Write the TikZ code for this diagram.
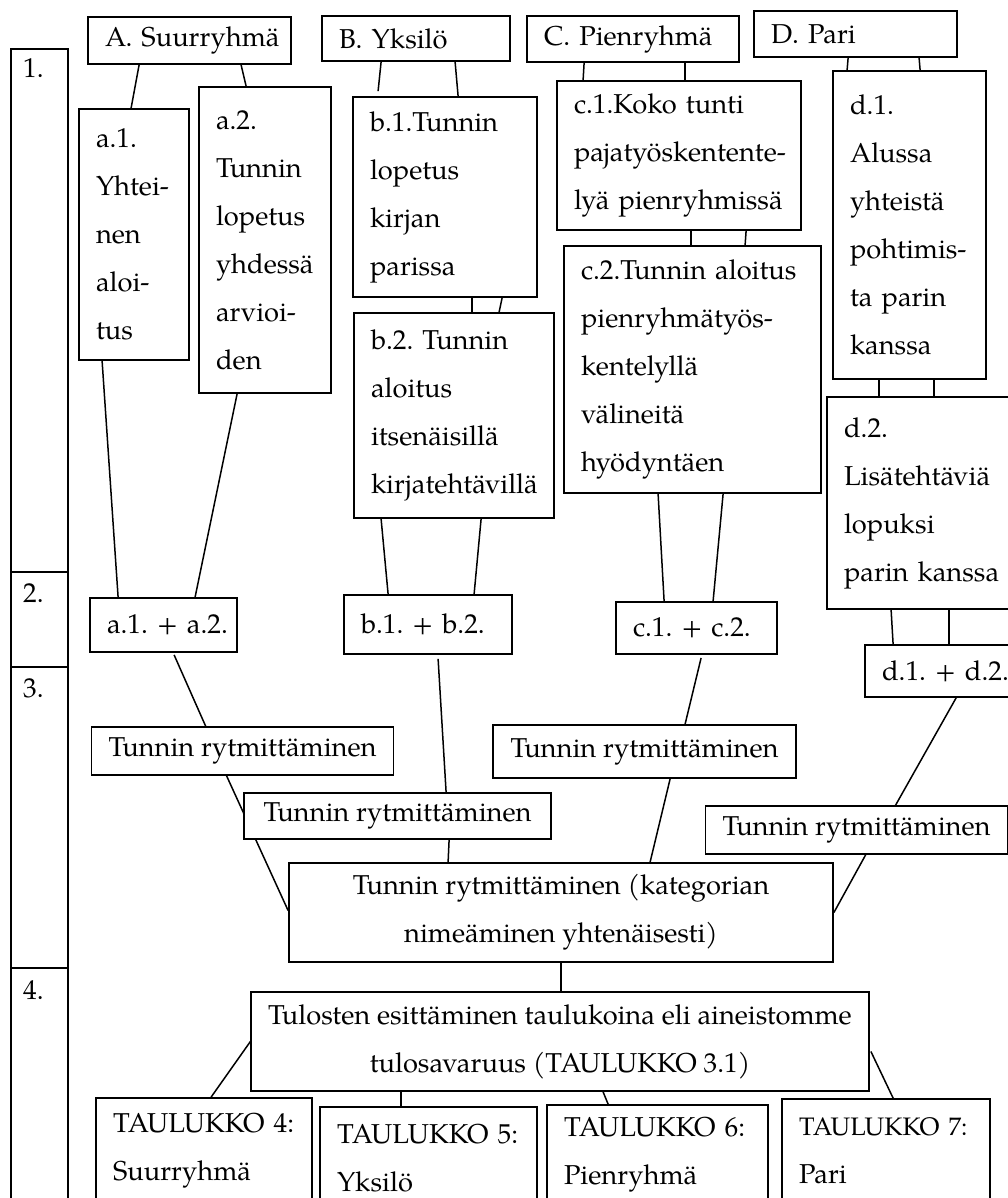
\documentclass[tikz,border=0pt]{standalone}
\usepackage{fontspec}
\setmainfont{TeX Gyre Pagella}
\usetikzlibrary{calc}
\hyphenpenalty=10000
\exhyphenpenalty=10000
\tikzstyle{box}=[draw, fill=white, line width=1.8pt, inner xsep=17pt, inner ysep=0pt, align=left, font=\fontsize{27.3}{48}\selectfont]
\tikzstyle{cbox}=[box, align=center]
\tikzstyle{rowcell}=[draw, line width=1.8pt, anchor=north west, inner sep=0pt, minimum width=57pt]
\tikzstyle{rownum}=[anchor=north west, inner sep=0pt, font=\fontsize{27.3}{48}\selectfont]
\tikzstyle{link}=[line width=1.5pt]

\begin{document}
\begin{tikzpicture}[x=1pt, y=-1pt]
    \fill[white] (0,0) rectangle (1008,1198);
    \useasboundingbox (0,0) rectangle (1008,1198);
    \clip (0,0) rectangle (1008,1198);
    % phases on the left
    \node[rowcell, minimum height=523pt] (row1) at (10,48) {};
    \node[rowcell, minimum height=95pt] (row2) at (10,571) {};
    \node[rowcell, minimum height=301pt] (row3) at (10,666) {};
    \node[rowcell, minimum height=250pt] (row4) at (10,967) {};
    \node[rownum] (num1) at ($(row1.north west)+(13,10)$) {1.};
    \node[rownum] (num2) at ($(row2.north west)+(13,12)$) {2.};
    \node[rownum] (num3) at ($(row3.north west)+(13,12)$) {3.};
    \node[rownum] (num4) at ($(row4.north west)+(13,13)$) {4.};

    % groups
    \node[box, text width=169pt, minimum height=47pt] (A) at (189.5,40.5) {A.~Suurryhmä};
    \node[box, text width=154pt, minimum height=45pt] (B) at (416,38.5) {B.~Yksilö};
    \node[box, text width=178pt, minimum height=46pt] (C) at (633,39) {C.~Pienryhmä};
    \node[box, text width=169pt, minimum height=46pt] (D) at (855.5,34) {D.~Pari};

    \node[box, text width=76pt, minimum height=251pt] (a1) at (134,234.5) {a.1.\\Yhtei-\\nen\\aloi-\\tus};
    \node[box, text width=98pt, minimum height=306pt] (a2) at (265,240) {a.2.\\Tunnin\\lopetus\\yhdessä\\arvioi-\\den};
    \node[box, text width=150pt, minimum height=200pt] (b1) at (445,197) {b.1.Tunnin\\lopetus\\kirjan\\parissa};
    \node[box, text width=166pt, minimum height=205pt] (b2) at (454,415.5) {b.2.~Tunnin\\aloitus\\itsenäisillä\\kirjatehtävillä};
    \node[box, text width=210pt, minimum height=149pt] (c1) at (679,155.5) {c.1.Koko~tunti\\pajatyöskentente-\\lyä~pienryhmissä};
    \node[box, text width=223pt, minimum height=247pt] (c2) at (692.5,369.5) {c.2.Tunnin~aloitus\\pienryhmätyös-\\kentelyllä\\välineitä\\hyödyntäen};
    \node[box, text width=119pt, minimum height=308pt] (d1) at (909.5,225) {d.1.\\Alussa\\yhteistä\\pohtimis-\\ta~parin\\kanssa};
    \node[box, text width=159pt, minimum height=212pt] (d2) at (923.5,503) {d.2.\\Lisätehtäviä\\lopuksi\\parin~kanssa};

    \node[box, text width=113pt, minimum height=54pt] (a12) at (163.5,625) {a.1.~+~a.2.};
    \node[box, text width=134pt, minimum height=59pt] (b12) at (428,624.5) {b.1.~+~b.2.};
    \node[box, text width=127pt, minimum height=52pt] (c12) at (696.5,628) {c.1.~+~c.2.};
    \node[box, text width=121pt, minimum height=52pt] (d12) at (942.5,671) {d.1.~+~d.2.};

    \node[cbox, minimum width=301pt, minimum height=48pt] (ra) at (242.5,751) {Tunnin rytmittäminen};
    \node[cbox, minimum width=303pt, minimum height=53pt] (rc) at (644.5,751.5) {Tunnin rytmittäminen};
    \node[cbox, minimum width=301pt, minimum height=48pt] (rd) at (856.5,830) {Tunnin rytmittäminen};
    \node[cbox, minimum width=544pt, minimum height=99pt] (rall) at (561,912.5) {Tunnin rytmittäminen (kategorian\\nimeäminen yhtenäisesti)};
    \draw[link] ($(ra.south west)+(136,0)$) -- ($(rall.west)+(0,-2)$);
    \node[cbox, minimum width=307pt, minimum height=46pt] (rb) at (397.5,816) {Tunnin rytmittäminen};

    \node[cbox, minimum width=618pt, minimum height=99pt] (tulos) at (560,1041.5) {Tulosten esittäminen taulukoina eli aineistomme\\tulosavaruus (TAULUKKO 3.1)};
    \node[box, text width=182pt, minimum height=106pt] (t4) at (204,1151) {TAULUKKO~4:\\Suurryhmä};
    \node[box, text width=183pt, minimum height=103pt] (t5) at (428.5,1158.5) {TAULUKKO~5:\\Yksilö};
    \node[box, text width=187pt, minimum height=99pt] (t6) at (657.5,1154.5) {TAULUKKO~6:\\Pienryhmä};
    \node[box, text width=174pt, minimum height=104pt] (t7) at (886,1151) {{\fontsize{25.3}{48}\selectfont TAULUKKO~7:}\\Pari};

    % groups to lessons
    \draw[link] ($(A.south west)+(52,0)$) -- ($(a1.north west)+(53,0)$);
    \draw[link] ($(A.south west)+(154,0)$) -- ($(a2.north west)+(48,0)$);
    \draw[link] ($(B.south west)+(60,0)$) -- ($(b1.north west)+(26,-5)$);
    \draw[link] ($(B.south west)+(134,0)$) -- ($(b1.north west)+(106,0)$);
    \draw[link] ($(b1.south west)+(120,0)$) -- ($(b2.north west)+(119,0)$);
    \draw[link] ($(b1.south west)+(150,0)$) -- ($(b2.north west)+(146,0)$);
    \draw[link] ($(C.south west)+(58,0)$) -- ($(c1.north west)+(27,0)$);
    \draw[link] ($(C.south west)+(159,0)$) -- ($(c1.north west)+(129,0)$);
    \draw[link] ($(c1.south west)+(135,0)$) -- ($(c2.north west)+(128,0)$);
    \draw[link] ($(c1.south west)+(190,0)$) -- ($(c2.north west)+(182,0)$);
    \draw[link] ($(D.south west)+(95,0)$) -- ($(d1.north west)+(15,0)$);
    \draw[link] ($(D.south west)+(166,0)$) -- ($(d1.north west)+(88,0)$);
    \draw[link] ($(d1.south west)+(47,0)$) -- ($(d2.north west)+(53,0)$);
    \draw[link] ($(d1.south west)+(102,0)$) -- ($(d2.north west)+(108,0)$);

    % lessons to pairs
    \draw[link] ($(a1.south west)+(24,0)$) -- ($(a12.north west)+(29,0)$);
    \draw[link] ($(a2.south west)+(39,0)$) -- ($(a12.north west)+(106,0)$);
    \draw[link] ($(b2.south west)+(28,0)$) -- ($(b12.north west)+(45,0)$);
    \draw[link] ($(b2.south west)+(128,0)$) -- ($(b12.north west)+(131,0)$);
    \draw[link] ($(c2.south west)+(95,0)$) -- ($(c12.north west)+(49,0)$);
    \draw[link] ($(c2.south west)+(160,0)$) -- ($(c12.north west)+(98,0)$);
    \draw[link] ($(d2.south west)+(65,0)$) -- ($(d12.north west)+(29,0)$);
    \draw[link] ($(d2.south west)+(123,0)$) -- ($(d12.north west)+(85,0)$);

    % pairs to rhythm
    \draw[link] ($(a12.south west)+(85,2)$) -- ($(ra.north west)+(115,0)$);
    \draw[link] ($(b12.south west)+(95,4)$) -- ($(rb.north west)+(203,0)$);
    \draw[link] ($(c12.south west)+(86,3)$) -- ($(rc.north west)+(193,0)$);
    \draw[link] ($(d12.south west)+(92,0)$) -- ($(rd.north west)+(191,0)$);
    \draw[link] ($(rb.south west)+(206,0)$) -- ($(rall.north west)+(160,0)$);
    \draw[link] ($(rc.south west)+(178,0)$) -- ($(rall.north west)+(362,0)$);
    \draw[link] ($(rd.south west)+(161,0)$) -- (rall.east);

    % results
    \draw[link] (rall.south) -- (rall.south |- tulos.north);
    \draw[link] ($(tulos.west)+(1,-1)$) -- ($(t4.north west)+(116,0)$);
    \draw[link] ($(tulos.south west)+(151,0)$) -- ($(t5.north west)+(82,0)$);
    \draw[link] ($(tulos.south west)+(353,0)$) -- ($(t6.north west)+(62,0)$);
    \draw[link] ($(tulos.east)+(1,10)$) -- ($(t7.north west)+(112,0)$);
\end{tikzpicture}
\end{document}
